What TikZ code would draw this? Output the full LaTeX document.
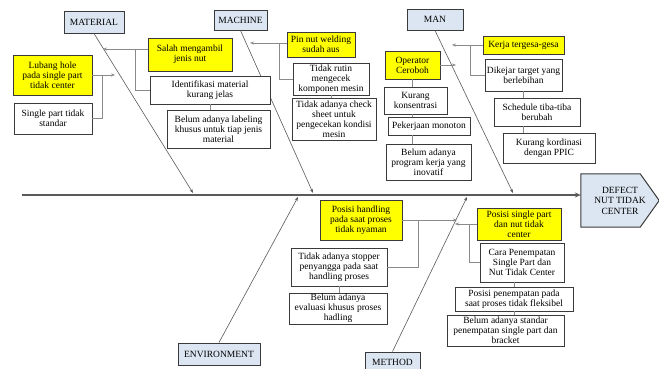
\documentclass[tikz,border=0pt]{standalone}
\usepackage{fontspec}
\setmainfont{Liberation Serif}
\usetikzlibrary{arrows.meta}

\definecolor{catblue}{HTML}{DCE6F2}
\definecolor{causeyellow}{HTML}{FFFF00}
\definecolor{boxline}{HTML}{3A3A3A}
\definecolor{linkgray}{HTML}{8A8A8A}
\definecolor{bonegray}{HTML}{5A5A5A}

\tikzset{
  wh/.style 2 args={minimum width=#1pt, minimum height=#2pt},
  cause/.style={draw=boxline, line width=0.9pt, fill=white, align=center, inner sep=1pt,
    font=\fontsize{9.5}{10}\selectfont},
  hot/.style={cause, fill=causeyellow},
  category/.style={draw=boxline, line width=1pt, fill=catblue, inner sep=1pt,
    font=\fontsize{9.5}{10}\selectfont},
  link/.style={draw=linkgray, line width=0.7pt},
  bone/.style={draw=bonegray, line width=0.6pt},
  spine/.style={draw=bonegray, line width=1.6pt, -{Stealth[length=6pt,width=5pt]}},
}

\begin{document}
\begin{tikzpicture}[x=1pt, y=-1pt, >={Stealth[length=4pt,width=3pt]}]
\fill[white] (0,0) rectangle (659,368);
\useasboundingbox (0,0) rectangle (659,368);

% categories and head
\node[category, wh={60}{22}] (mat) at (94,22) {MATERIAL};
\node[category, wh={53}{20}] (mach) at (240.5,20) {MACHINE};
\node[category, wh={56}{21}] (man) at (435,19.5) {MAN};
\node[category, wh={82}{22}] (env) at (219,354) {ENVIRONMENT};
\node[category, wh={55}{20}] (meth) at (392.5,362) {METHOD};
\node[align=center, inner sep=0pt, wh={78}{53}] (head) at (620,200.5) {};
\draw[draw=boxline, line width=1pt, fill=catblue] (head.north west) -- ([xshift=-19pt]head.north east)
  -- (head.east) -- ([xshift=-19pt]head.south east) -- (head.south west) -- cycle;
\node[align=center, font=\fontsize{9.5}{10.5}\selectfont] at (head) {DEFECT\\NUT TIDAK\\CENTER};

% spine and bones
\coordinate (tail) at (22,195);
\draw[spine] (tail) -- (tail -| head.west);
\coordinate (tMat) at (193,193);
\coordinate (tMach) at (313,193);
\coordinate (tMan) at (513,193);
\coordinate (tEnv) at (298,197);
\coordinate (tMeth) at (467,197);
\foreach \b/\t in {mat.south/tMat, mach.south/tMach, man.south/tMan, env.north/tEnv, meth.north/tMeth}{
\draw[bone,->] (\b) -- (\t);
}

% material
\node[hot, wh={84}{33}] (salah) at (190,54.5) {Salah mengambil\\jenis nut};
\node[cause, wh={120}{28}] (ident) at (210,90) {Identifikasi material\\kurang jelas};
\node[cause, wh={103}{38}] (label) at (218.5,129) {Belum adanya labeling\\khusus untuk tiap jenis\\material};
\node[hot, wh={79}{40}] (lubang) at (52.5,75) {Lubang hole\\pada single part\\tidak center};
\node[cause, wh={78}{31}] (single) at (53,118.5) {Single part tidak\\standar};
\coordinate (tSalah) at (103,49);
\coordinate (jSalah) at (135,49);
\draw[link,->] (jSalah -| salah.west) -- (tSalah);
\draw[link] (ident.west) -| (jSalah);
\draw[link] (ident.south) -- (ident.south |- label.north);
\coordinate (tLubang) at (115,75);
\coordinate (jLubang) at (102,75);
\draw[link,->] (lubang.east) -- (tLubang);
\draw[link] (single.east) -| (jLubang);

% machine
\node[hot, wh={68}{25}] (pin) at (321,44.5) {Pin nut welding\\sudah aus};
\node[cause, wh={76}{32}] (rutin) at (331,79) {Tidak rutin\\mengecek\\komponen mesin};
\node[cause, wh={84}{42}] (check) at (334,119) {Tidak adanya check\\sheet untuk\\pengecekan kondisi\\mesin};
\coordinate (tPin) at (250,43);
\coordinate (jPin) at (279,43);
\draw[link,->] (jPin -| pin.west) -- (tPin);
\draw[link] (rutin.west) -| (jPin);
\draw[link] (rutin.south) -- (rutin.south |- check.north);

% man
\node[hot, wh={81}{18}] (kerja) at (523.5,45) {Kerja tergesa-gesa};
\node[cause, wh={77}{32}] (dikejar) at (523.5,75) {Dikejar target yang\\berlebihan};
\node[cause, wh={86}{28}] (sched) at (537,112) {Schedule tiba-tiba\\berubah};
\node[cause, wh={92}{30}] (kord) at (549,148) {Kurang kordinasi\\dengan PPIC};
\node[hot, wh={55}{28}] (oper) at (412.5,65) {Operator\\Ceroboh};
\node[cause, wh={63}{27}] (konsen) at (415.5,100.5) {Kurang\\konsentrasi};
\node[cause, wh={82}{18}] (monoton) at (429,126) {Pekerjaan monoton};
\node[cause, wh={85}{36}] (program) at (428.5,162) {Belum adanya\\program kerja yang\\inovatif};
\coordinate (tKerja) at (452,45);
\coordinate (jKerja) at (470,45);
\draw[link,->] (kerja.west) -- (tKerja);
\draw[link] (dikejar.west) -| (jKerja);
\draw[link] (dikejar.south) -- (dikejar.south |- sched.north);
\draw[link] (sched.south -| dikejar.south) -- (kord.north -| dikejar.south);
\coordinate (tOper) at (456,65);
\draw[link,->] (oper.east) -- (tOper);
\draw[link] (oper.south) -- (oper.south |- konsen.north);
\draw[link] (konsen.south -| oper.south) -- (monoton.north -| oper.south);
\draw[link] (monoton.south -| oper.south) -- (program.north -| oper.south);

% environment
\node[hot, wh={82}{40}] (handling) at (361,220) {Posisi handling\\pada saat proses\\tidak nyaman};
\node[cause, wh={96}{38}] (stopper) at (339,267) {Tidak adanya stopper\\penyangga pada saat\\handling proses};
\node[cause, wh={98}{31}] (evalu) at (338,308.5) {Belum adanya\\evaluasi khusus proses\\hadling};
\coordinate (tHand) at (457,220);
\coordinate (jHand) at (418,220);
\draw[link,->] (handling.east) -- (tHand);
\draw[link] (stopper.east) -| (jHand);
\draw[link] (stopper.south) -- (stopper.south |- evalu.north);

% method
\node[hot, wh={84}{32}] (possp) at (519,224) {Posisi single part\\dan nut tidak\\center};
\node[cause, wh={84}{39}] (cara) at (522,262.5) {Cara Penempatan\\Single Part dan\\Nut Tidak Center};
\node[cause, wh={118}{24}] (pospen) at (514,299) {Posisi penempatan pada\\saat proses tidak fleksibel};
\node[cause, wh={117}{31}] (standar) at (505.5,330.5) {Belum adanya standar\\penempatan single part dan\\bracket};
\coordinate (tPos) at (455,224);
\coordinate (jPos) at (469,224);
\draw[link,->] (possp.west) -- (tPos);
\draw[link] (cara.west) -| (jPos);
\draw[link] (pospen.north) -- (pospen.north |- cara.south);
\draw[link] (pospen.south) -- (pospen.south |- standar.north);
\end{tikzpicture}
\end{document}
